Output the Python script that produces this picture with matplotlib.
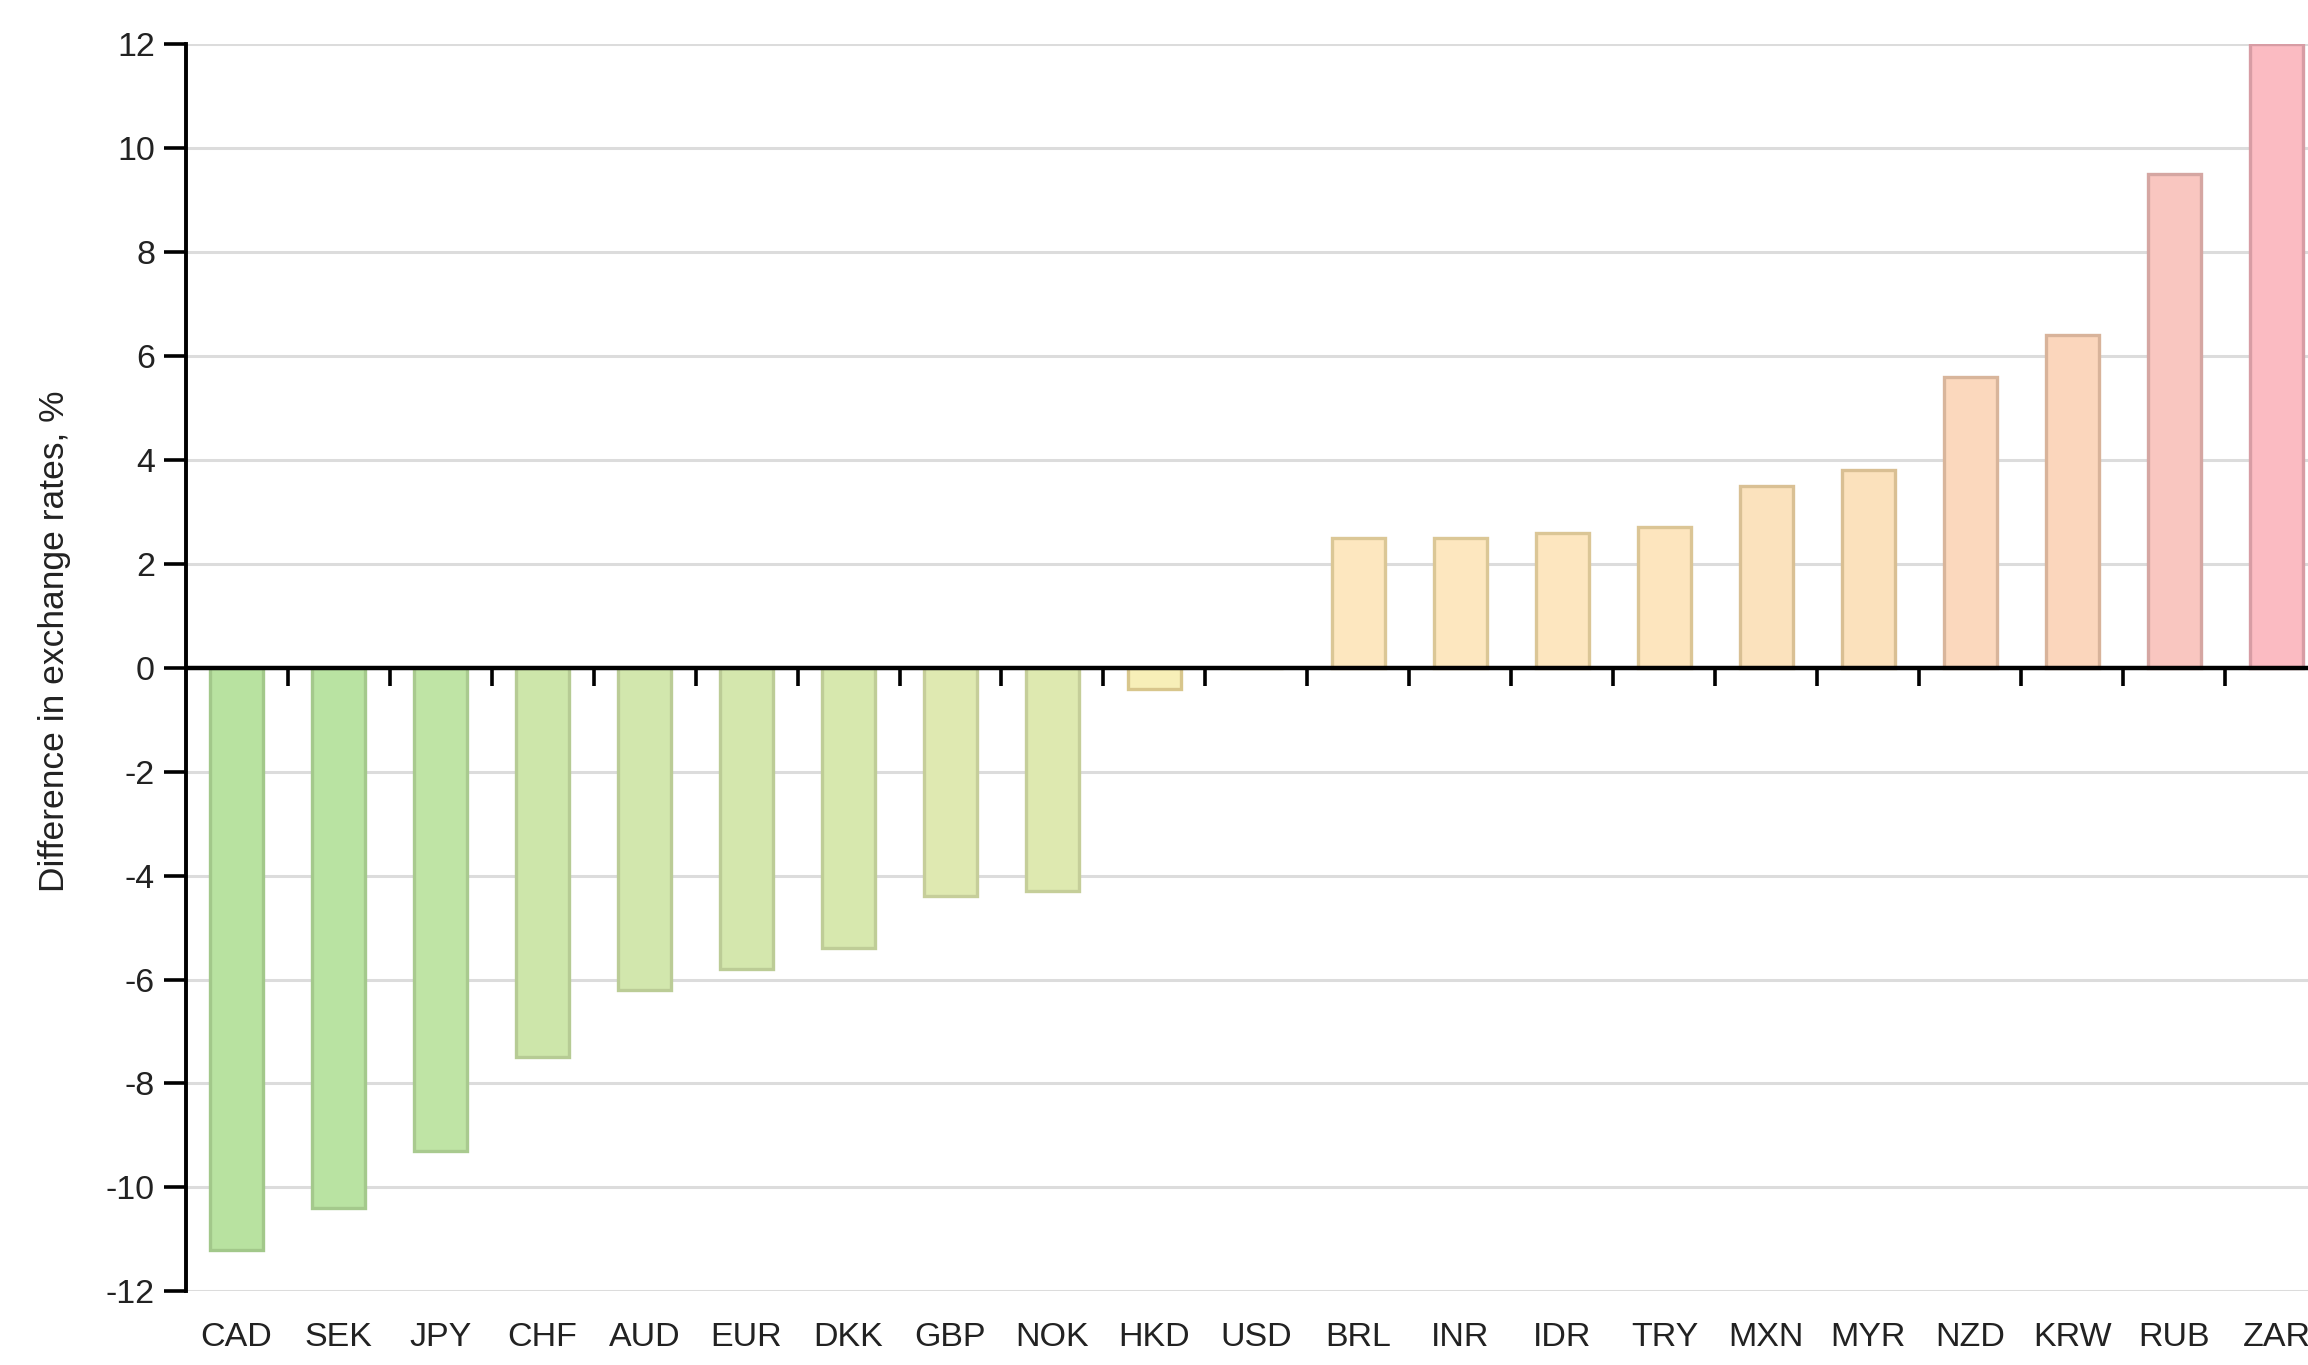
import matplotlib.pyplot as plt
from matplotlib import rc

rc('font', **{'family': 'Liberation Sans', 'size': 24.5})

currencies = ['CAD', 'SEK', 'JPY', 'CHF', 'AUD', 'EUR', 'DKK', 'GBP', 'NOK', 'HKD', 'USD',
              'BRL', 'INR', 'IDR', 'TRY', 'MXN', 'MYR', 'NZD', 'KRW', 'RUB', 'ZAR']
diff = [-11.2, -10.4, -9.3, -7.5, -6.2, -5.8, -5.4, -4.4, -4.3, -0.4, 0.0,
        2.5, 2.5, 2.6, 2.7, 3.5, 3.8, 5.6, 6.4, 9.5, 12.0]
fills = ['#b8e2a0', '#b9e3a2', '#bfe4a5', '#cde6aa', '#d2e7ad', '#d4e7ad', '#d7e8ae',
         '#dfe9b1', '#dee9b0', '#f7efb8', '#f9ebbb',
         '#fde7bf', '#fde7bf', '#fde6bf', '#fde5be', '#fbe2bd', '#fbe1bc',
         '#fbd8bd', '#fbd6bc', '#f9c6c0', '#fbbbc2']
edges = ['#a2c88a', '#a4c98c', '#a9ca8f', '#b6cb94', '#bbcc96', '#bccc96', '#bfcd97',
         '#c6ce9a', '#c5ce99', '#d8c68c', '#d9c794',
         '#dbc796', '#dbc796', '#dbc696', '#dbc595', '#d9c094', '#d9bf93',
         '#d8b59b', '#d8b39a', '#d5a6a2', '#d79ca4']

fig = plt.figure(figsize=(23.08, 13.65), dpi=100)
ax = fig.add_axes([0.0804, 0.054, 0.9196, 0.9136])

x = range(len(currencies))
ax.bar(x, diff, width=0.52, color=fills, edgecolor=edges, linewidth=2.4, zorder=3)

ax.set_ylim(-12, 12)
ax.set_xlim(-0.5, 20.31)
ax.set_yticks(range(-12, 13, 2))
ax.grid(axis='y', color='#dcdcdc', linewidth=2.2, zorder=0)

# zero line with boundary ticks
ax.axhline(0, color='black', linewidth=3.2, zorder=4)
ax.vlines([i + 0.5 for i in range(len(currencies) - 1)], -0.36, 0,
          color='black', linewidth=2.6, zorder=4)

for s in ['top', 'right', 'bottom']:
    ax.spines[s].set_visible(False)
ax.spines['left'].set_linewidth(2.8)
ax.tick_params(axis='y', length=16, width=2.6, pad=6, colors='black', labelcolor='#222222')
ax.set_yticklabels([str(v) for v in range(-12, 13, 2)])
ax.set_xticks(list(x))
ax.set_xticklabels(currencies, color='#222222')
ax.tick_params(axis='x', length=0, pad=22)

fig.text(0.0235, 0.53, 'Difference in exchange rates, %', rotation=90,
         ha='center', va='center', color='#222222', fontsize=25.5)

plt.savefig('out.png')
